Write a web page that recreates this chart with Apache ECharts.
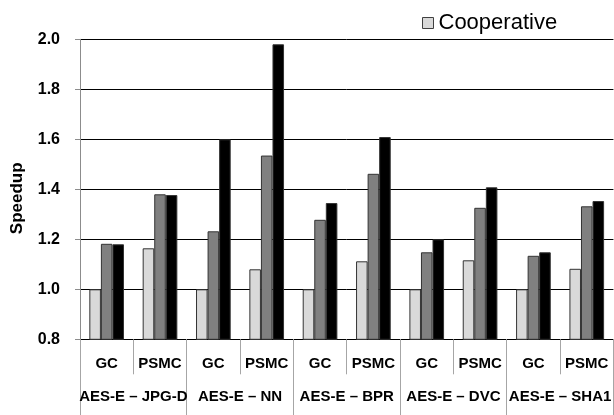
<!DOCTYPE html>
<html>
<head>
<meta charset="utf-8">
<script src="https://cdn.jsdelivr.net/npm/echarts@6/dist/echarts.min.js"></script>
<style>
html,body{margin:0;padding:0;background:#fff;}
#chart{width:614px;height:415px;}
</style>
</head>
<body>
<div id="chart"></div>
<script>
const categories = ['GC','PSMC','GC','PSMC','GC','PSMC','GC','PSMC','GC','PSMC'];
const groups = ['AES-E \u2013 JPG-D','AES-E \u2013 NN','AES-E \u2013 BPR','AES-E \u2013 DVC','AES-E \u2013 SHA1'];
const cooperative = [1.00, 1.164, 1.00, 1.08, 1.00, 1.112, 1.00, 1.116, 1.00, 1.082];
const seriesB = [1.182, 1.38, 1.232, 1.535, 1.278, 1.462, 1.148, 1.326, 1.134, 1.332];
const seriesC = [1.18, 1.377, 1.60, 1.98, 1.345, 1.609, 1.20, 1.408, 1.148, 1.353];
const yTicks = {min: 0.8, max: 2.0, interval: 0.2};

const FONT = 'Liberation Sans';
const chart = echarts.init(document.getElementById('chart'), null, {renderer:'canvas'});
const barStyle = (c) => ({color: c, borderColor: '#333333', borderWidth: 1});
chart.setOption({
  animation: false,
  backgroundColor: '#ffffff',
  legend: {
    data: ['Cooperative'],
    left: 417, top: 7,
    itemWidth: 11, itemHeight: 11,
    icon: 'rect',
    itemStyle: {color: '#d9d9d9', borderColor: '#404040', borderWidth: 1},
    textStyle: {fontFamily: FONT, fontSize: 22, color: '#000'}
  },
  grid: {left: 80, top: 39.3, width: 537, height: 300},
  xAxis: [
    {
      type: 'category', data: categories, position: 'bottom',
      axisLine: {show: true, lineStyle: {color: '#000', width: 1}},
      axisTick: {show: true, interval: 0, length: 35, lineStyle: {color: '#a6a6a6'}},
      axisLabel: {interval: 0, margin: 17, fontFamily: FONT, fontSize: 15, fontWeight: 'bold', color: '#000'}
    },
    {
      type: 'category', data: groups, position: 'bottom',
      axisLine: {show: false},
      axisTick: {show: true, interval: 0, length: 76, lineStyle: {color: '#a6a6a6'}},
      axisLabel: {interval: 0, margin: 50, fontFamily: FONT, fontSize: 15, fontWeight: 'bold', color: '#000'}
    }
  ],
  yAxis: {
    type: 'value', min: yTicks.min, max: yTicks.max, interval: yTicks.interval,
    name: 'Speedup', nameLocation: 'middle', nameGap: 54,
    nameTextStyle: {fontFamily: FONT, fontSize: 17, fontWeight: 'bold', color: '#000', padding: [0, 18, 0, 0]},
    axisLine: {show: true, lineStyle: {color: '#8c8c8c', width: 1}},
    axisTick: {show: true, length: 5, lineStyle: {color: '#8c8c8c'}},
    axisLabel: {margin: 20, fontFamily: FONT, fontSize: 16, fontWeight: 'bold', color: '#000',
      formatter: v => v.toFixed(1)},
    splitLine: {show: true, lineStyle: {color: '#000', width: 1}}
  },
  series: [
    {name: 'Cooperative', type: 'bar', data: cooperative, itemStyle: barStyle('#d9d9d9'), barGap: '0%', barCategoryGap: '35%'},
    {name: 'Series B', type: 'bar', data: seriesB, itemStyle: barStyle('#808080'), barGap: '0%', barCategoryGap: '35%'},
    {name: 'Series C', type: 'bar', data: seriesC, itemStyle: barStyle('#000000'), barGap: '0%', barCategoryGap: '35%'}
  ]
});
</script>
</body>
</html>
